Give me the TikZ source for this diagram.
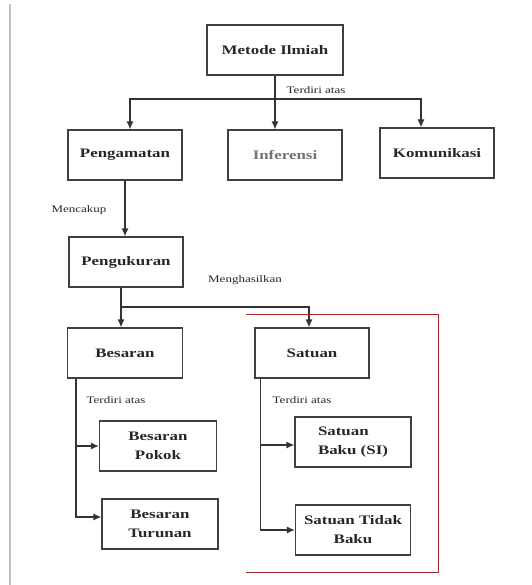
\documentclass[tikz,border=0pt]{standalone}
\usepackage{fontspec}
\setmainfont{Liberation Serif}[FakeStretch=1.3]
\usepackage{tikz}
\usetikzlibrary{positioning}
\usetikzlibrary{arrows.meta,calc}

\begin{document}
\begin{tikzpicture}[x=1pt, y=-1pt,
    box/.style={draw=black!75, line width=1.2pt, minimum height=50pt, align=center,
                font=\fontsize{13}{19}\selectfont\bfseries, text=black!85},
    lbl/.style={font=\fontsize{10}{12}\selectfont, text=black!85},
    arr/.style={-{Latex[length=8pt,width=7pt]}, line width=1.2pt, draw=black!80},
    lin/.style={line width=1.2pt, draw=black!80}]

  \useasboundingbox (0,0) rectangle (531,585);

  %side line
  \draw[gray!50, line width=1.5pt] (10,4) -- (10,585);

  %boxes
  \foreach \x/\y/\w/\name/\txt in {275/50/136/metode/Metode Ilmiah,
        125/155/114/peng/Pengamatan, 437/153/114/kom/Komunikasi,
        126/262/114/ukur/Pengukuran,
        125/353/115/besaran/Besaran, 312/353/114/satuan/Satuan,
        158/446/117/pokok/Besaran\\Pokok, 160/524/116/turunan/Besaran\\Turunan,
        353/530/115/tidak/Satuan Tidak\\Baku}{
      \node[box, minimum width=\w pt] (\name) at (\x,\y) {\txt};
  }
  \node[box, minimum width=114pt, text=black!55] (inf) at (285,155) {Inferensi};
  \node[box, minimum width=116pt, align=left] (baku) at (353,442) {Satuan\\Baku (SI)};

  %labels
  \node[lbl] (lterdiri) at (316,90) {Terdiri atas};
  \node[lbl] (lmencakup) at (79,210) {Mencakup};
  \node[lbl] (lhasil) at (245,280) {Menghasilkan};
  \node[lbl] (lbesaran) at (116,400) {Terdiri atas};
  \node[lbl] (lsatuan) at (302,400) {Terdiri atas};

  %metode ilmiah
  \coordinate (j1) at (275,99);
  \draw[lin] (metode.south) -- (j1);
  \draw[arr] (j1) -| ([xshift=5pt]peng.north);
  \draw[arr] (j1) -- ([xshift=-10pt]inf.north);
  \draw[arr] (j1) -| ([xshift=-16pt]kom.north);

  %pengamatan -> pengukuran
  \draw[arr] (peng.south) -- (peng.south |- ukur.north);

  %pengukuran
  \coordinate (j2) at (121,307);
  \draw[lin] ([xshift=-5pt]ukur.south) -- (j2);
  \draw[arr] (j2) -- ([xshift=-4pt]besaran.north);
  \draw[arr] (j2) -| ([xshift=-3pt]satuan.north);

  %besaran
  \coordinate (b1) at ([xshift=9pt]besaran.south west);
  \draw[arr] (b1) |- (pokok.west);
  \draw[arr] (b1) |- ([yshift=7pt]turunan.west);

  %satuan
  \coordinate (s1) at ([xshift=6pt]satuan.south west);
  \draw[arr] (s1) |- ([yshift=-3pt]baku.west);
  \draw[arr] (s1) |- (tidak.west);

  %red frame
  \draw[red, line width=1pt] (246,314) -- (438,314) -- (438,572) -- (246,572);

\end{tikzpicture}
\end{document}
